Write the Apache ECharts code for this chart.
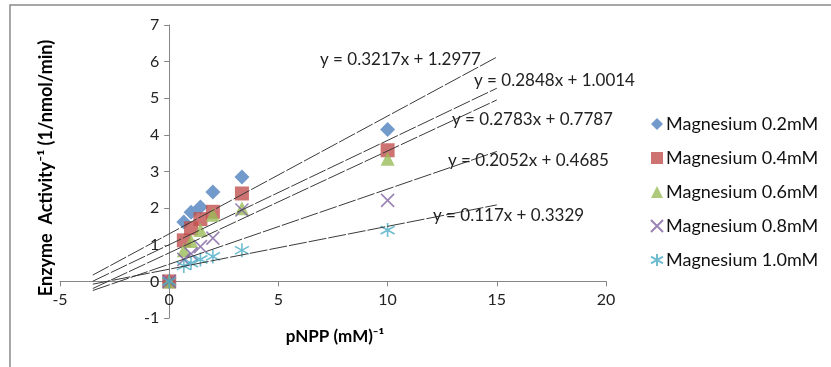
<!DOCTYPE html>
<html>
<head>
<meta charset="utf-8">
<script src="https://cdn.jsdelivr.net/npm/echarts@6/dist/echarts.min.js"></script>
<style>
  html, body { margin: 0; padding: 0; background: #fff; }
  #main { width: 831px; height: 367px; }
</style>
</head>
<body>
<div id="main"></div>
<script>
// reciprocal substrate concentration, (mM)^-1
const xValues = [0, 0.67, 1, 1.43, 2, 3.33, 10];

const seriesNames = ['Magnesium 0.2mM', 'Magnesium 0.4mM', 'Magnesium 0.6mM', 'Magnesium 0.8mM', 'Magnesium 1.0mM'];

// 1 / enzyme activity
const mg02 = [0, 1.62, 1.89, 2.03, 2.44, 2.85, 4.15];
const mg04 = [0, 1.12, 1.45, 1.7, 1.9, 2.4, 3.58];
const mg06 = [0, 0.85, 1.1, 1.4, 1.82, 2.0, 3.35];
const mg08 = [0, 0.6, 0.75, 0.95, 1.18, 1.95, 2.21];
const mg10 = [0, 0.42, 0.5, 0.6, 0.68, 0.85, 1.4];

// trendline equations shown on the chart
const slopes = [0.3217, 0.2848, 0.2783, 0.2052, 0.117];
const intercepts = [1.2977, 1.0014, 0.7787, 0.4685, 0.3329];
const eqLabels = ['y = 0.3217x + 1.2977', 'y = 0.2848x + 1.0014', 'y = 0.2783x + 0.7787', 'y = 0.2052x + 0.4685', 'y = 0.117x + 0.3329'];
const trendFrom = -3.5;
const trendTo = 15;

const xTitle = 'pNPP (mM)⁻¹';
const yTitle = 'Enzyme  Activity⁻¹ (1/nmol/min)';

const colors = ['#4F81BD', '#C0504D', '#9BBB59', '#8064A2', '#4BACC6'];
const symbols = ['diamond', 'rect', 'triangle', 'path://M0,0L10,10M10,0L0,10', 'path://M5,0L5,10M0,2.2L10,7.8M0,7.8L10,2.2'];
const sizes = [15, 14, 14, 13, 14];
const allY = [mg02, mg04, mg06, mg08, mg10];

const FONT = 'Lato';
const chart = echarts.init(document.getElementById('main'));

const series = [];
allY.forEach((ys, i) => {
  const stroked = i >= 3;
  series.push({
    name: seriesNames[i],
    type: 'scatter',
    symbol: symbols[i],
    symbolSize: sizes[i],
    data: xValues.map((x, j) => [x, ys[j]]),
    itemStyle: stroked
      ? { color: colors[i], borderColor: colors[i], borderWidth: 1.6 }
      : { color: colors[i] },
    z: 2
  });
});
slopes.forEach((m, i) => {
  series.push({
    name: 'trend' + i,
    type: 'line',
    data: [[trendFrom, m * trendFrom + intercepts[i]], [trendTo, m * trendTo + intercepts[i]]],
    symbol: 'none',
    silent: true,
    lineStyle: { color: '#3a3a3a', width: 1, type: [18, 2] },
    z: 3
  });
});

// equation label positions (pixels)
const eqPos = [[320, 51], [474, 72], [452, 111], [448, 152], [433, 207]];

// grid is 546 x 293 px; axes cross at (0, 0)
const option = {
  animation: false,
  textStyle: { fontFamily: FONT },
  grid: { left: 60, top: 25, width: 546, height: 293, containLabel: false, outerBoundsMode: 'none' },
  xAxis: {
    type: 'value', min: -5, max: 20, interval: 5,
    offset: -293 / 8,
    axisLine: { onZero: false, lineStyle: { color: '#868686', width: 1 } },
    axisTick: { show: true, length: 5, lineStyle: { color: '#868686' } },
    axisLabel: { fontFamily: FONT, fontSize: 16, color: '#222', margin: 10 },
    splitLine: { show: false }
  },
  yAxis: {
    type: 'value', min: -1, max: 7, interval: 1,
    offset: -546 / 5,
    axisLine: { show: true, onZero: false, lineStyle: { color: '#868686', width: 1 } },
    axisTick: { show: true, length: 5, lineStyle: { color: '#868686' } },
    axisLabel: { fontFamily: FONT, fontSize: 16, color: '#222', margin: 10 },
    splitLine: { show: false }
  },
  legend: {
    data: seriesNames,
    orient: 'vertical',
    left: 645, top: 110,
    itemWidth: 12, itemHeight: 12, itemGap: 16,
    textStyle: { fontFamily: FONT, fontSize: 18, color: '#111', padding: [0, 0, 0, -2] }
  },
  graphic: [
    {
      type: 'rect', silent: true, z: -10,
      shape: { x: 10, y: 5, width: 900, height: 400 },
      style: { fill: 'none', stroke: '#8a8a8a', lineWidth: 1.5 }
    },
    {
      type: 'text', silent: true, z: 10,
      x: 335, y: 337,
      style: { text: xTitle, fontFamily: FONT, fontSize: 17, fontWeight: 'bold', fill: '#000', align: 'center', verticalAlign: 'middle' }
    },
    {
      type: 'text', silent: true, z: 10,
      x: 46, y: 168, rotation: Math.PI / 2,
      style: { text: yTitle, fontFamily: FONT, fontSize: 18, fontWeight: 'bold', fill: '#000', align: 'center', verticalAlign: 'middle' }
    }
  ].concat(eqLabels.map((t, i) => ({
    type: 'text', silent: true, z: 10,
    left: eqPos[i][0], top: eqPos[i][1],
    style: { text: t, fontFamily: FONT, fontSize: 17, fill: '#222' }
  }))),
  series: series
};
chart.setOption(option);
</script>
</body>
</html>
